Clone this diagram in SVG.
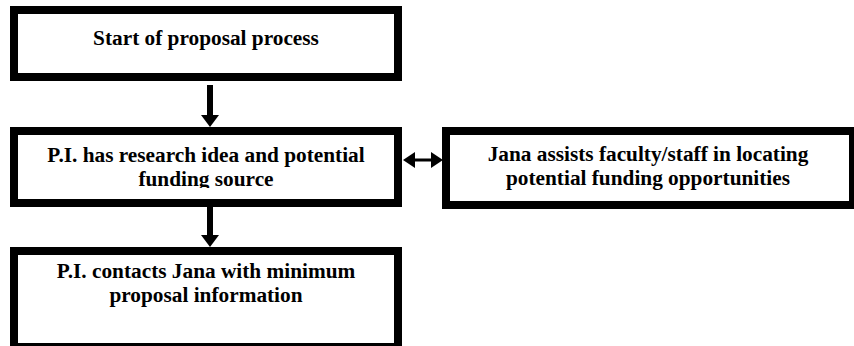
<svg xmlns="http://www.w3.org/2000/svg" width="854" height="346" viewBox="0 0 854 346">
<style>
.box{fill:#fff;stroke:#000;stroke-width:8}
.t{font-weight:bold;font-size:21.3px;fill:#000;text-anchor:middle}
</style>
<defs>
<clipPath id="clip2"><rect x="18" y="135" width="376" height="53"/></clipPath>
</defs>
<rect width="854" height="346" fill="#fff"/>
<g id="connectors" fill="#000">
<rect x="207" y="85" width="6" height="31"/>
<polygon points="201,115 219,115 210,127"/>
<rect x="207" y="207" width="6" height="29"/>
<polygon points="201,235 219,235 210,247"/>
<rect x="413" y="158.5" width="20" height="3"/>
<polygon points="403,160 415,152 415,168"/>
<polygon points="443,160 431,152 431,168"/>
</g>
<g font-family="Liberation Serif, Times New Roman, serif">
<g id="start">
<rect class="box" x="14" y="10" width="384" height="67"/>
<text class="t" x="206" y="45">Start of proposal process</text>
</g>
<g id="idea">
<rect class="box" x="14" y="131" width="384" height="72"/>
<g clip-path="url(#clip2)">
<text class="t" x="206" y="162">P.I. has research idea and potential</text>
<text class="t" x="206" y="186">funding source</text>
</g>
</g>
<g id="jana">
<rect class="box" x="446" y="131" width="407" height="74"/>
<text class="t" x="648" y="161">Jana assists faculty/staff in locating</text>
<text class="t" x="648" y="185">potential funding opportunities</text>
</g>
<g id="contacts">
<rect class="box" x="14" y="251" width="384" height="96"/>
<text class="t" x="206" y="278">P.I. contacts Jana with minimum</text>
<text class="t" x="206" y="302">proposal information</text>
</g>
</g>
</svg>
